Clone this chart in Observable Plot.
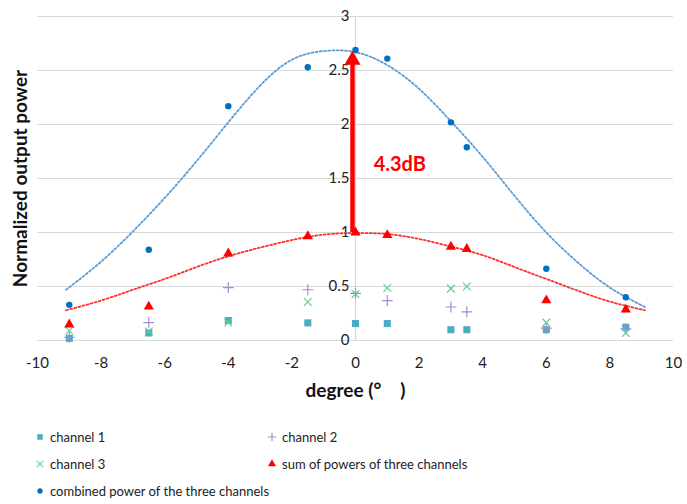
<!DOCTYPE html>
<html>
<head>
<meta charset="utf-8">
<script src="https://cdn.jsdelivr.net/npm/d3@7"></script>
<script src="https://cdn.jsdelivr.net/npm/@observablehq/plot@0.6"></script>
<style>
  body { margin: 0; background: #fff; font-family: Lato, "Open Sans", sans-serif; }
  #legend { position: relative; height: 92px; font-size: 13px; color: #222; }
  .item { position: absolute; display: flex; align-items: center; height: 20px; }
  .item svg { margin-right: 4px; }
</style>
</head>
<body>
<div id="chart"></div>
<div id="legend"></div>
<script>
const degrees  = [-9, -6.5, -4, -1.5, 0, 1, 3, 3.5, 6, 8.5];
const channel1 = [0.02, 0.07, 0.185, 0.163, 0.157, 0.157, 0.10, 0.10, 0.10, 0.123];
const channel2 = [0.03, 0.166, 0.49, 0.47, 0.437, 0.37, 0.31, 0.265, 0.114, 0.108];
const channel3 = [0.09, 0.083, 0.166, 0.357, 0.43, 0.486, 0.48, 0.50, 0.166, 0.07];
const sumPower = [0.148, 0.314, 0.806, 0.966, 1.0, 0.976, 0.868, 0.847, 0.372, 0.286];
const combined = [0.33, 0.84, 2.17, 2.53, 2.69, 2.61, 2.02, 1.79, 0.665, 0.40];

// trendline positions
const trendX    = [-9.1, -8, -7, -6, -5, -4, -3, -2, -1, 0, 1, 2, 3, 4, 5, 6, 7, 8, 9.1];
const blueTrend = [0.47, 0.73, 1.01, 1.32, 1.66, 2.02, 2.36, 2.6, 2.68, 2.67, 2.55, 2.33, 2.03, 1.70, 1.34, 1.0, 0.72, 0.49, 0.31];
const redTrend  = [0.28, 0.37, 0.47, 0.57, 0.68, 0.78, 0.86, 0.93, 0.98, 0.995, 0.985, 0.94, 0.87, 0.79, 0.68, 0.57, 0.46, 0.36, 0.28];

const xTicks = [-10, -8, -6, -4, -2, 0, 2, 4, 6, 8, 10];
const yTicks = [0, 0.5, 1, 1.5, 2, 2.5, 3];

const arrowFrom = 1.0, arrowTo = 2.69;

const COL = {
  ch1: "#4BACC6", ch2: "#A68BD6", ch3: "#5FD08F",
  sum: "#FF0000", comb: "#0070C0", blueTrend: "#5B9BD5", redTrend: "#FF3030"
};

const pts = (ys) => degrees.map((d, i) => ({x: d, y: ys[i]}));
const trend = (ys) => trendX.map((d, i) => ({x: d, y: ys[i]}));

const chart = Plot.plot({
  width: 687,
  height: 412,
  marginTop: 16,
  marginBottom: 72,
  marginLeft: 37,
  marginRight: 14,
  style: { fontFamily: "Lato, 'Open Sans', sans-serif", fontSize: "15px", color: "#333" },
  x: { domain: [-10, 10] },
  y: { domain: [0, 3], axis: null },
  marks: [
    Plot.gridY(yTicks, { stroke: "#d9d9d9", strokeOpacity: 1, strokeWidth: 1 }),
    Plot.ruleX([0], { stroke: "#d9d9d9", strokeWidth: 1.2 }),
    Plot.axisX(xTicks, { tickSize: 0, tickPadding: 17, fontSize: 15, label: null, fill: "#222", tickFormat: d => String(d) }),
    Plot.text(yTicks, { x: 0, y: d => d, text: d => String(d), textAnchor: "end", dx: -6, fontSize: 15, fill: "#222" }),
    Plot.line(trend(blueTrend), { x: "x", y: "y", curve: "natural", stroke: COL.blueTrend, strokeWidth: 1.8, strokeDasharray: "2,2.2" }),
    Plot.line(trend(redTrend), { x: "x", y: "y", curve: "natural", stroke: COL.redTrend, strokeWidth: 1.8, strokeDasharray: "2,2.2" }),
    Plot.dot(pts(channel1), { x: "x", y: "y", symbol: "square", r: 4, fill: COL.ch1 }),
    Plot.dot(pts(channel3), { x: "x", y: "y", symbol: "times", r: 3.6, stroke: COL.ch3, strokeWidth: 1.2 }),
    Plot.dot(pts(channel2), { x: "x", y: "y", symbol: "plus", r: 3.6, stroke: COL.ch2, strokeWidth: 1.2 }),
    Plot.dot(pts(sumPower), { x: "x", y: "y", symbol: "triangle", r: 3.8, fill: COL.sum }),
    Plot.dot(pts(combined), { x: "x", y: "y", symbol: "circle", r: 3.2, fill: COL.comb }),
    Plot.ruleX([0], { y1: arrowFrom, y2: arrowTo - 0.12, stroke: "#FF0000", strokeWidth: 4.5, dx: -3 }),
    Plot.dot([{x: 0, y: arrowTo}], { x: "x", y: "y", symbol: "triangle", r: 6, fill: "#FF0000", dx: -3, dy: 10 }),
    Plot.text(["4.3dB"], { x: 0.57, y: 1.63, textAnchor: "start", fontSize: 20, fontWeight: "bold", fill: "#FF0000" }),
    Plot.text(["degree (°\u3000)"], { frameAnchor: "bottom", textAnchor: "middle", dy: 56, fontSize: 19, fontWeight: "bold", fill: "#111" }),
    Plot.text(["Normalized output power"], { frameAnchor: "left", textAnchor: "middle", rotate: -90, dx: -17, fontSize: 19, fontWeight: "bold", fill: "#111" })
  ]
});
document.getElementById("chart").appendChild(chart);

// Legend
const legendItems = [
  { label: "channel 1", sym: "square", fill: COL.ch1, left: 34, top: 427 },
  { label: "channel 2", sym: "plus", stroke: COL.ch2, left: 266, top: 427 },
  { label: "channel 3", sym: "times", stroke: COL.ch3, left: 34, top: 454 },
  { label: "sum of powers of three channels", sym: "triangle", fill: COL.sum, left: 266, top: 454 },
  { label: "combined power of the three channels", sym: "circle", fill: COL.comb, left: 34, top: 481 }
];
const legend = document.getElementById("legend");
const symMap = { square: d3.symbolSquare, plus: d3.symbolPlus, times: d3.symbolTimes, triangle: d3.symbolTriangle, circle: d3.symbolCircle };
const sizes = { square: 30, plus: 24, times: 32, triangle: 28, circle: 22 };
for (const it of legendItems) {
  const div = document.createElement("div");
  div.className = "item";
  div.style.left = it.left + "px";
  div.style.top = (it.top - 412) + "px";
  const s = d3.create("svg").attr("width", 12).attr("height", 12);
  s.append("path")
    .attr("transform", "translate(6,6)")
    .attr("d", d3.symbol(symMap[it.sym], sizes[it.sym])())
    .attr("fill", it.fill || "none")
    .attr("stroke", it.stroke || "none")
    .attr("stroke-width", 1.1);
  div.appendChild(s.node());
  const span = document.createElement("span");
  span.textContent = it.label;
  div.appendChild(span);
  legend.appendChild(div);
}
</script>
</body>
</html>
